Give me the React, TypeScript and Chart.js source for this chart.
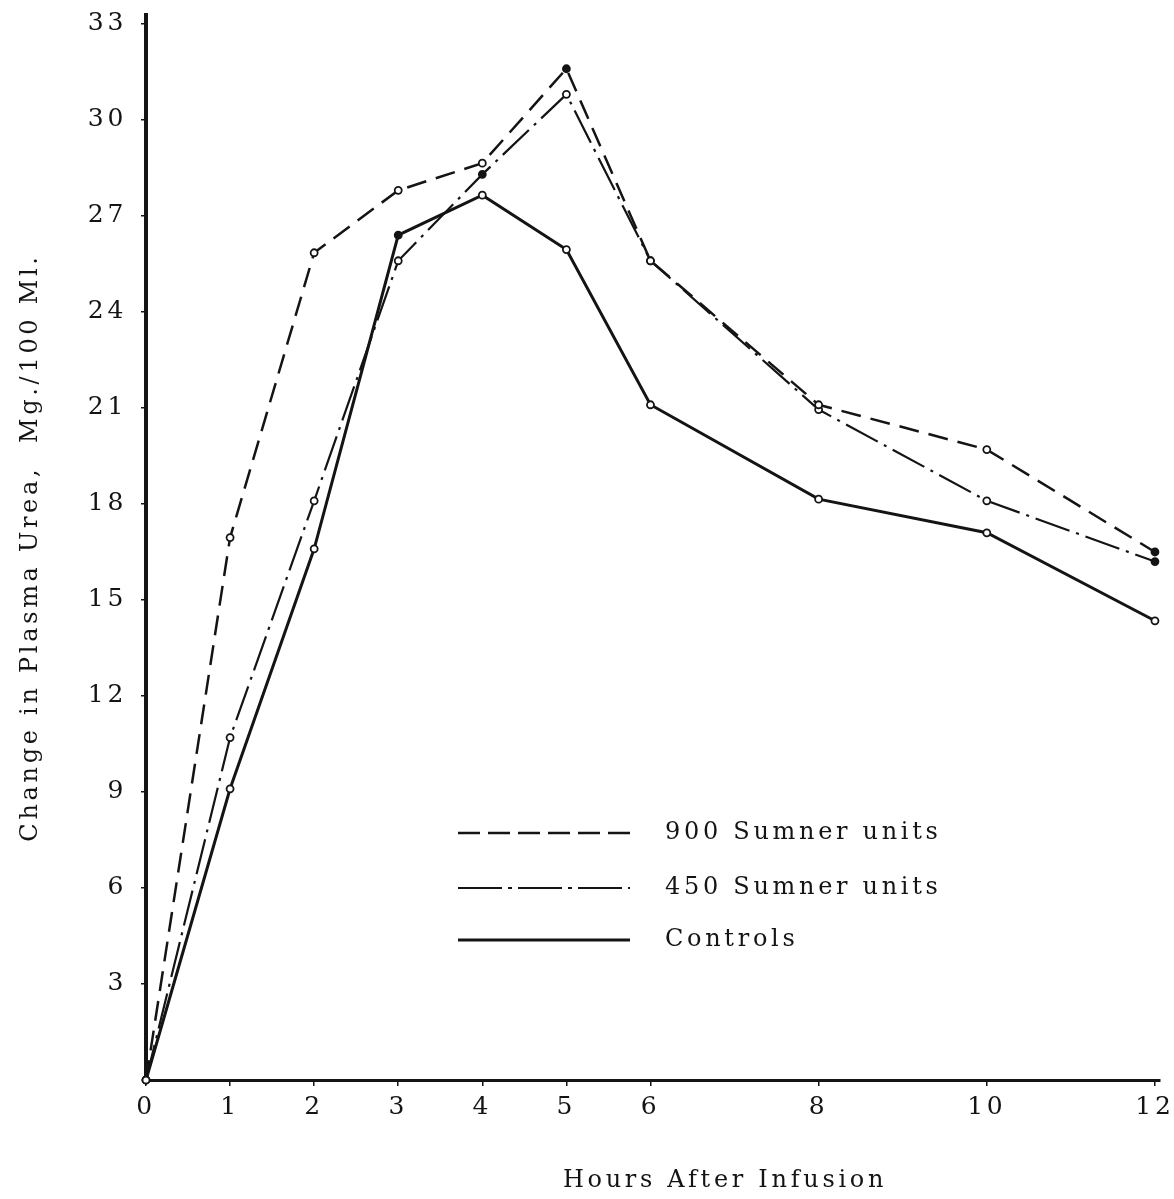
import { useEffect, useRef } from "react";
import { Chart, registerables } from "chart.js";

Chart.register(...registerables);

const hours = [0, 1, 2, 3, 4, 5, 6, 8, 10, 12];
const units900 = [0, 16.95, 25.85, 27.8, 28.65, 31.6, 25.6, 21.1, 19.7, 16.5];
const units450 = [0, 10.7, 18.1, 25.6, 28.3, 30.8, 25.6, 20.95, 18.1, 16.2];
const controls = [0, 9.1, 16.6, 26.4, 27.65, 25.95, 21.1, 18.15, 17.1, 14.35];
const xTicks = [0, 1, 2, 3, 4, 5, 6, 8, 10, 12];
const yTicks = [3, 6, 9, 12, 15, 18, 21, 24, 27, 30, 33];
const seriesLabels = ["900 Sumner units", "450 Sumner units", "Controls"];
const xTitle = "Hours After Infusion";
const yTitle = "Change in Plasma Urea,  Mg./100 Ml.";

const FONT = "'DejaVu Serif', serif";
const INK = "#141414";
const SPACING = "3.7px";

const letterSpacingPlugin = {
  id: "letterSpacing",
  beforeDraw(chart: any) {
    chart.ctx.letterSpacing = SPACING;
  },
  beforeDatasetsDraw(chart: any) {
    chart.ctx.letterSpacing = "0px";
  },
};

const textPlugin = {
  id: "inlineLegendAndTitle",
  afterDraw(chart: any) {
    const ctx = chart.ctx;
    const rows = [833, 888, 940];
    ctx.save();
    chart.data.datasets.forEach((ds: any, i: number) => {
      const y = rows[i];
      ctx.beginPath();
      ctx.setLineDash(ds.legendDash || []);
      ctx.lineWidth = ds.borderWidth;
      ctx.strokeStyle = INK;
      ctx.moveTo(458, y);
      ctx.lineTo(630, y);
      ctx.stroke();
      ctx.setLineDash([]);
      ctx.letterSpacing = SPACING;
      ctx.fillStyle = INK;
      ctx.font = `24px ${FONT}`;
      ctx.textBaseline = "middle";
      ctx.textAlign = "left";
      ctx.fillText(ds.label, 665, y);
    });
    ctx.letterSpacing = SPACING;
    ctx.fillStyle = INK;
    ctx.font = `24px ${FONT}`;
    ctx.textBaseline = "middle";
    ctx.textAlign = "center";
    ctx.fillText(xTitle, 725, 1181);
    ctx.restore();
  },
};

// which markers are drawn solid (style only)
const fillFor = (solid: number[]) => hours.map((_, i) => (solid.includes(i) ? INK : "#fff"));

export default function App() {
  const ref = useRef<HTMLCanvasElement | null>(null);

  useEffect(() => {
    if (!ref.current) return;
    const mk = (vals: number[]) => hours.map((h, i) => ({ x: h, y: vals[i] }));
    const common = {
      borderColor: INK,
      pointRadius: 3.5,
      pointBorderWidth: 1.8,
      pointBorderColor: INK,
      fill: false,
      tension: 0,
      clip: false as any,
    };
    const chart = new Chart(ref.current, {
      type: "line",
      data: {
        datasets: [
          { ...common, label: seriesLabels[0], data: mk(units900), pointBackgroundColor: fillFor([5, 9]), borderWidth: 2.5, borderDash: [20, 10], legendDash: [22, 8] } as any,
          { ...common, label: seriesLabels[1], data: mk(units450), pointBackgroundColor: fillFor([4, 6, 9]), borderWidth: 2.2, borderDash: [36, 7, 3, 7], legendDash: [44, 6, 4, 6] } as any,
          { ...common, label: seriesLabels[2], data: mk(controls), pointBackgroundColor: fillFor([3]), borderWidth: 3 } as any,
        ],
      },
      options: {
        animation: false,
        responsive: false,
        devicePixelRatio: 1,
        layout: { padding: { top: 15, right: 14, left: 0, bottom: 0 } },
        plugins: {
          legend: { display: false },
          tooltip: { enabled: false },
        },
        scales: {
          x: {
            type: "linear",
            min: 0,
            max: 12.06,
            afterBuildTicks: (s: any) => {
              s.ticks = xTicks.map((v) => ({ value: v }));
            },
            afterFit: (s: any) => {
              s.height = 119;
              s.paddingLeft = 0;
              s.paddingRight = 0;
            },
            grid: { drawOnChartArea: false, drawTicks: true, tickLength: 6, color: INK, lineWidth: 1.5 },
            border: { display: true, color: INK, width: 3 },
            ticks: {
              color: INK,
              font: { family: FONT, size: 25 },
              padding: 6,
              maxRotation: 0,
              autoSkip: false,
              callback: (v: any) => String(v),
            },
            title: { display: false, text: xTitle },
          },
          y: {
            type: "linear",
            min: 0,
            max: 33.28,
            afterBuildTicks: (s: any) => {
              s.ticks = yTicks.map((v) => ({ value: v }));
            },
            afterFit: (s: any) => {
              s.width = 146;
              s.paddingTop = 0;
              s.paddingBottom = 0;
            },
            grid: { drawOnChartArea: false, drawTicks: true, tickLength: 5, color: INK, lineWidth: 1.5 },
            border: { display: true, color: INK, width: 4 },
            ticks: {
              color: INK,
              font: { family: FONT, size: 25 },
              padding: 14,
              autoSkip: false,
              callback: (v: any) => String(v),
            },
            title: {
              display: true,
              text: yTitle,
              color: INK,
              font: { family: FONT, size: 24 },
              padding: { top: 16, bottom: 0 },
            },
          },
        },
      } as any,
      plugins: [letterSpacingPlugin, textPlugin],
    });
    return () => chart.destroy();
  }, []);

  return (
    <div style={{ position: "absolute", left: 0, top: 0, width: 1174, height: 1199, background: "#fff" }}>
      <canvas ref={ref} width={1174} height={1199} />
    </div>
  );
}
